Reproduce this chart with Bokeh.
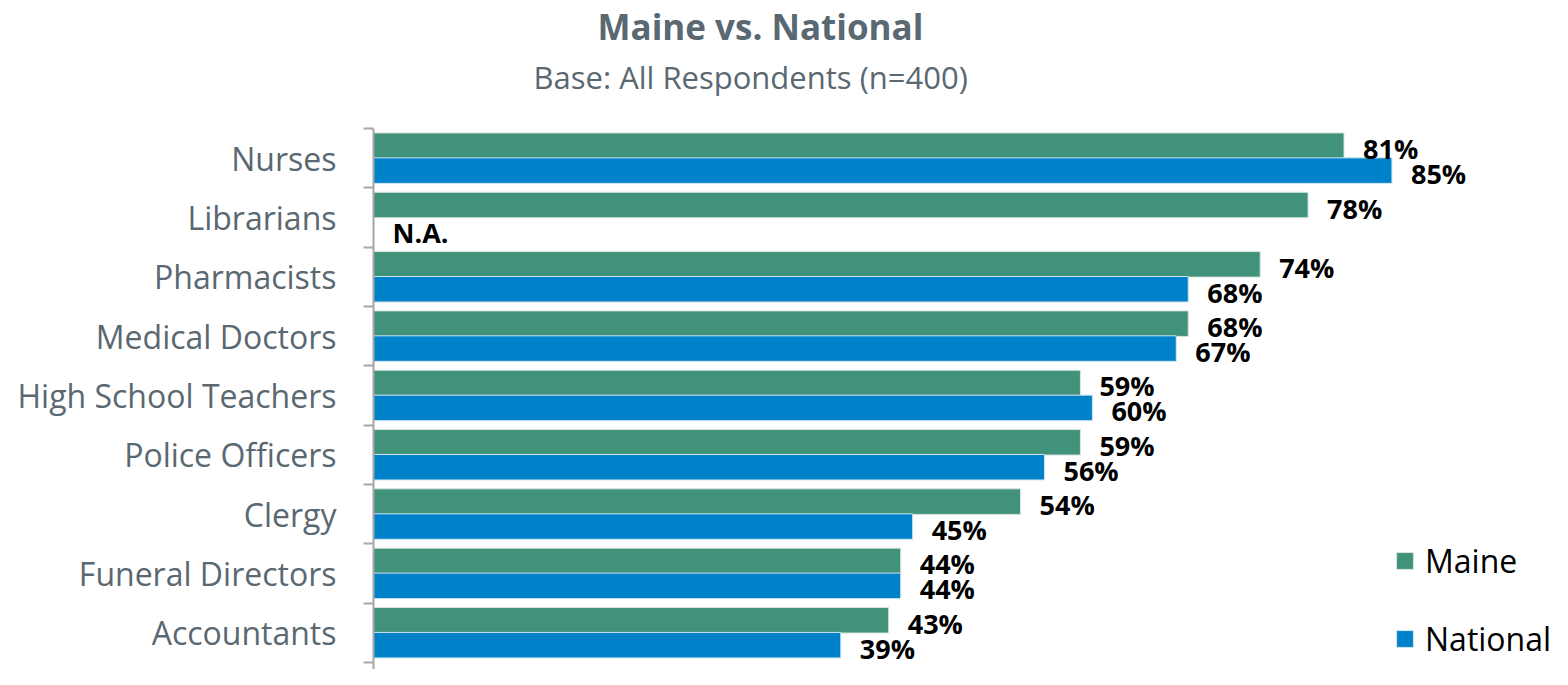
from bokeh.plotting import figure
from bokeh.models import Range1d, FixedTicker, ColumnDataSource, Legend, LegendItem, LinearAxis, LabelSet, Title
from bokeh.core.properties import value
from bokeh.embed import file_html
from bokeh.resources import INLINE

categories = ["Nurses", "Librarians", "Pharmacists", "Medical Doctors",
              "High School Teachers", "Police Officers", "Clergy",
              "Funeral Directors", "Accountants"]
maine = [81, 78, 74, 68, 59, 59, 54, 44, 43]
national = [85, None, 68, 67, 60, 56, 45, 44, 39]
title_text = "Maine vs. National"
subtitle_text = "Base: All Respondents (n=400)"

FONT = "Open Sans"
GREEN = "#41927A"
BLUE = "#0082CA"
LABEL_GRAY = "#5A6872"

n = len(categories)
pos = [n - 1 - i for i in range(n)]

src_m = ColumnDataSource(dict(
    y=[q + 0.21 for q in pos], x=maine,
    lbl=[f"{v}%" for v in maine]))
src_n = ColumnDataSource(dict(
    y=[q - 0.21 for q in pos],
    x=[float("nan") if v is None else v for v in national],
    xl=[0 if v is None else v for v in national],
    lbl=["N.A." if v is None else f"{v}%" for v in national]))

p = figure(width=1552, height=669, output_backend="svg", toolbar_location=None,
           x_range=Range1d(0, 98.4), y_range=Range1d(-0.62, n - 0.5),
           min_border_left=373, min_border_right=0, min_border_bottom=0,
           min_border_top=128, y_axis_location=None, x_axis_location=None)
p.title = None
p.outline_line_color = None
p.xgrid.visible = False
p.ygrid.visible = False
p.background_fill_color = "white"
p.border_fill_color = "white"

yax = LinearAxis(ticker=FixedTicker(ticks=pos, minor_ticks=[k - 0.5 for k in range(n + 1)]),
                 major_label_overrides={q: c for q, c in zip(pos, categories)})
yax.major_tick_out = 0
yax.major_tick_in = 0
yax.minor_tick_out = 10
yax.minor_tick_in = 0
yax.minor_tick_line_color = "#A6A6A6"
yax.minor_tick_line_width = 2
yax.axis_line_color = "#A6A6A6"
yax.axis_line_width = 2
yax.major_label_standoff = 27
yax.major_label_text_font = FONT
yax.major_label_text_font_size = "32px"
yax.major_label_text_color = LABEL_GRAY
p.add_layout(yax, "left")

rm = p.hbar(y="y", right="x", left=0, height=0.43, source=src_m,
            fill_color=GREEN, line_color="#D8E4E0", line_width=1)
rn = p.hbar(y="y", right="x", left=0, height=0.43, source=src_n,
            fill_color=BLUE, line_color="#D0E4F0", line_width=1)

for src, xcol in ((src_m, "x"), (src_n, "xl")):
    p.add_layout(LabelSet(x=xcol, y="y", text="lbl", source=src, x_offset=19, y_offset=-3,
                          text_align="left", text_baseline="middle", text_font=value(FONT),
                          text_font_style="bold", text_font_size="27px", text_color="black"))

legend = Legend(items=[LegendItem(label="Maine", renderers=[rm]),
                       LegendItem(label="National", renderers=[rn])],
                location=(1021, 9))
legend.glyph_width = 21
legend.glyph_height = 21
legend.label_height = 21
legend.spacing = 35
legend.padding = 0
legend.margin = 0
legend.label_standoff = 10
legend.border_line_color = None
legend.background_fill_alpha = 0
legend.label_text_font = FONT
legend.label_text_font_size = "32px"
legend.label_text_color = "black"
p.add_layout(legend, "center")

spacer = Title(text=" ", text_font_size="1px", standoff=24)
sub = Title(text=subtitle_text, align="left", offset=160,
            text_font=FONT, text_font_style="normal", text_font_size="31px",
            text_color=LABEL_GRAY, standoff=8)
main = Title(text=title_text, align="left", offset=224,
             text_font=FONT, text_font_style="bold", text_font_size="35px",
             text_color=LABEL_GRAY, standoff=0)
p.add_layout(spacer, "above")
p.add_layout(sub, "above")
p.add_layout(main, "above")

open("out.html", "w").write(file_html(p, INLINE))
